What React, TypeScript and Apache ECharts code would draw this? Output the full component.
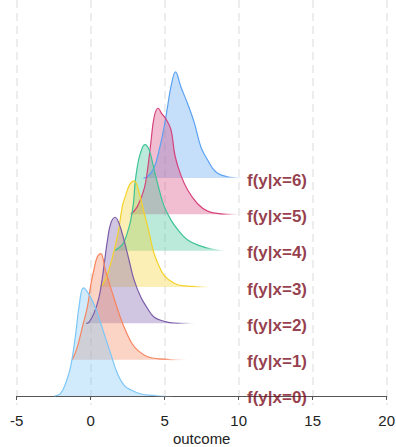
import React, { useEffect, useRef } from "react";
import * as echarts from "echarts";

// groups (x values) and their labels
const groups = [0, 1, 2, 3, 4, 5, 6];
const groupLabels = ["f(y|x=0)", "f(y|x=1)", "f(y|x=2)", "f(y|x=3)", "f(y|x=4)", "f(y|x=5)", "f(y|x=6)"];
const xTicks = [-5, 0, 5, 10, 15, 20];
const xTitle = "outcome";

// densities [outcome, relative density]
const dens0: [number, number][] = [
  [-2.44, 0], [-2.03, 0.025], [-1.69, 0.12], [-1.35, 0.28], [-1.02, 0.58], [-0.79, 0.84], [-0.49, 1.02],
  [0, 0.93], [0.45, 0.78], [0.9, 0.59], [1.35, 0.4], [1.81, 0.21], [2.26, 0.1], [2.71, 0.057],
  [3.39, 0.019], [4.29, 0.005], [5.6, 0],
];
const dens1: [number, number][] = [
  [-1.24, 0], [-0.9, 0.12], [-0.56, 0.31], [-0.22, 0.5], [0, 0.7], [0.22, 0.85], [0.45, 0.97], [0.68, 1.0],
  [1.0, 0.84], [1.6, 0.57], [2.0, 0.4], [2.4, 0.26], [2.8, 0.15], [3.2, 0.085], [3.84, 0.028],
  [4.6, 0.008], [6.4, 0],
];
const dens2: [number, number][] = [
  [-0.3, 0], [-0.11, 0.012], [0.22, 0.094], [0.56, 0.245], [0.79, 0.43], [0.97, 0.62], [1.13, 0.78],
  [1.35, 0.94], [1.65, 1.0], [1.92, 0.94], [2.26, 0.78], [2.6, 0.59], [2.93, 0.41], [3.39, 0.245],
  [3.84, 0.14], [4.29, 0.057], [4.96, 0.019], [5.64, 0.003], [7.2, 0],
];
const dens3: [number, number][] = [
  [0.68, 0], [1.02, 0.08], [1.35, 0.22], [1.65, 0.38], [1.9, 0.55], [2.14, 0.76], [2.4, 0.88], [2.65, 0.97],
  [2.93, 1.0], [3.27, 0.89], [3.61, 0.7], [3.95, 0.51], [4.25, 0.33], [4.55, 0.22], [4.96, 0.11],
  [5.64, 0.035], [6.3, 0.01], [8.3, 0],
];
const dens4: [number, number][] = [
  [1.6, 0], [2.14, 0.057], [2.48, 0.17], [2.71, 0.29], [2.89, 0.45], [3.0, 0.64], [3.16, 0.8], [3.34, 0.91],
  [3.66, 1.0], [3.95, 0.95], [4.29, 0.76], [4.62, 0.58], [4.96, 0.42], [5.42, 0.29], [5.87, 0.2],
  [6.55, 0.1], [7.45, 0.043], [8.35, 0.012], [9.1, 0],
];
const dens5: [number, number][] = [
  [2.71, 0], [3.16, 0.075], [3.61, 0.24], [3.84, 0.42], [4.06, 0.67], [4.29, 0.92], [4.56, 1.0],
  [4.8, 0.95], [5.08, 0.9], [5.42, 0.8], [5.7, 0.55], [6.09, 0.37], [6.55, 0.23], [7.22, 0.1],
  [7.9, 0.03], [8.8, 0.005], [10.2, 0],
];
const dens6: [number, number][] = [
  [3.56, 0], [3.84, 0.012], [4.29, 0.1], [4.62, 0.26], [4.96, 0.48], [5.19, 0.67], [5.42, 0.86],
  [5.73, 1.0], [6.09, 0.86], [6.55, 0.7], [7.0, 0.52], [7.45, 0.29], [7.9, 0.17], [8.46, 0.057],
  [9.25, 0.012], [10.4, 0],
];
const densities = [dens0, dens1, dens2, dens3, dens4, dens5, dens6];

const lineColors = ["#7cc6f6", "#f7835d", "#7a5ca8", "#f4d22a", "#3cc394", "#d6417a", "#5aa2f2"];
const labelColor = "#7b0b20";
const ridgeScale = 2.92; // peak height in row units
const labelX = 10.56;

function fade(c: string) {
  return new echarts.graphic.LinearGradient(0, 0, 1, 0, [
    { offset: 0, color: c },
    { offset: 0.82, color: c },
    { offset: 1, color: "rgba(255,255,255,0)" },
  ]);
}

export default function App() {
  const ref = useRef<HTMLDivElement>(null);
  useEffect(() => {
    document.body.style.margin = "0";
    const chart = echarts.init(ref.current!, null, { renderer: "svg" });
    const series: any[] = [];
    for (let i = groups.length - 1; i >= 0; i--) {
      const k = groups[i];
      const d = densities[i];
      const c = lineColors[i];
      series.push({
        type: "line",
        data: [[d[0][0], k], [d[d.length - 1][0], k]],
        symbol: "none",
        lineStyle: { width: 1, color: fade(c) },
        silent: true,
        z: 2,
      });
      series.push({
        type: "line",
        data: d.map(([x, v]) => [x, k + v * ridgeScale]),
        symbol: "none",
        smooth: 0.4,
        lineStyle: { width: 1.2, color: fade(c) },
        areaStyle: { color: c, opacity: 0.35, origin: k },
        silent: true,
        z: 2,
      });
    }
    series.push({
      type: "scatter",
      data: groups.map((k) => [labelX, k]),
      symbolSize: 0,
      silent: true,
      z: 5,
      label: {
        show: true,
        position: "right",
        distance: 0,
        offset: [0, 2],
        formatter: (p: any) => groupLabels[p.dataIndex],
        color: labelColor,
        fontSize: 17,
        fontWeight: "bold",
        fontFamily: "Liberation Sans, Arial, sans-serif",
      },
    });
    chart.setOption({
      animation: false,
      textStyle: { fontFamily: "Liberation Sans, Arial, sans-serif" },
      grid: { left: 16.7, right: 9.3, top: 0, bottom: 41.7, containLabel: false, outerBoundsMode: "none" },
      xAxis: {
        type: "value",
        min: xTicks[0],
        max: xTicks[xTicks.length - 1],
        interval: 5,
        name: xTitle,
        nameLocation: "middle",
        nameGap: 26,
        nameMoveOverlap: false,
        nameTextStyle: { fontSize: 15, lineHeight: 15, color: "#222" },
        axisLine: { show: true, lineStyle: { color: "#555", width: 1 } },
        axisTick: { show: true, length: 4, lineStyle: { color: "#555" } },
        axisLabel: { fontSize: 15, color: "#222", margin: 8 },
        splitLine: { show: true, lineStyle: { color: "#e8e8e8", width: 1.5, type: [8, 5] } },
      },
      yAxis: {
        type: "value",
        min: -0.256,
        max: 10.9,
        show: false,
        splitLine: { show: false },
      },
      series,
    });
    return () => chart.dispose();
  }, []);
  return <div ref={ref} style={{ width: 396, height: 447 }} />;
}
